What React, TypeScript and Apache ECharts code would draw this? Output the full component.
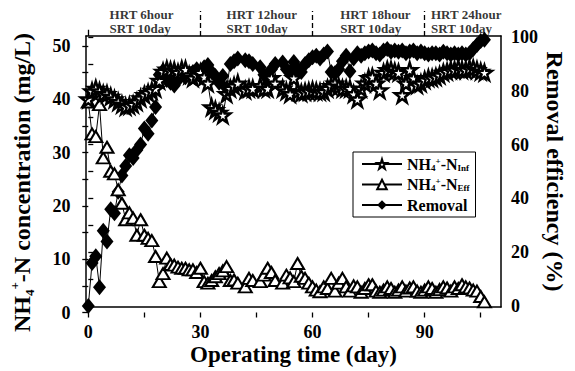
import React, { useEffect, useRef } from 'react';
import * as echarts from 'echarts';

// ---------- data ----------
const days = [
  0, 1, 2, 3, 4, 5, 6, 7, 8, 9,
  10, 11, 12, 13, 14, 15, 16, 17, 18, 19,
  20, 21, 22, 23, 24, 25, 26, 27, 28, 29,
  30, 31, 32, 33, 34, 35, 36, 37, 38, 39, 40,
  42, 43, 44,
  46, 47, 48, 49, 50,
  52, 53, 54, 55, 56, 57, 58, 59, 60, 61,
  62, 63, 64, 65, 66, 67, 68, 69, 70, 71,
  72, 73, 74, 75, 76, 77, 78, 79, 80, 81,
  82, 83, 84, 85, 86, 87, 88, 89, 90, 91,
  92, 93, 94, 95, 96, 97, 98, 99, 100, 101,
  102, 103, 104, 105, 106,
];

const influent = [
  40, 41.5, 42, 41.5, 41, 41, 40.5, 40, 39.5, 39,
  38.6, 38.8, 39, 39.5, 40.2, 40.8, 41.2, 41.6, 42, 43.5,
  45.2, 45.6, 45.4, 45.4, 45, 45.6, 45.6, 44.5, 44, 44.5,
  45, 44.2, 43, 38.5, 38, 37.5, 37, 41, 42, 42.5, 43,
  41.7, 42, 42,
  42.5, 42, 42, 44, 43,
  42, 41.5, 41, 44, 41.5, 41.2, 41.4, 41.5, 41.7, 41.5,
  41.4, 41.4, 42, 42.5, 43, 42.4, 42, 42, 42, 41,
  40, 42, 43, 44, 44.2, 43, 41.7, 45, 45.5, 45.5,
  45.2, 45, 40.8, 43, 45.5, 44, 42.7, 43, 43.6, 44,
  44, 44.2, 44.5, 45, 45.2, 45.5, 45.5, 45.8, 45.5, 45.5,
  45.8, 45.8, 45.5, 45.2, 45,
];

const effluent = [
  39.5, 33.5, 33, 39, 29, 31, 26.5, 26, 23, 20.5,
  17.4, 18.7, 17.7, 14.5, 17.4, 14.5, 13.9, 13.5, 10.5, 5.8,
  7.3, 10.2, 9, 8.9, 8.5, 8.3, 8.3, 8, 8, 7.5,
  8.3, 5.8, 5.5, 6, 6.7, 7.3, 7.8, 8.6, 6, 6.1, 5.5,
  4.8, 6.4, 6,
  5.8, 7, 8.3, 7.5, 6,
  5.5, 7, 6.5, 5.8, 9.2, 6.8, 6.4, 5.5, 4.8, 4.2,
  3.9, 4.8, 4.5, 6.4, 4, 5.5, 6.4, 4.8, 4, 5,
  4.8, 3.8, 4.5, 5.2, 5.2, 4, 3.8, 4.2, 4.8, 4.5,
  3.8, 4.2, 4.8, 4, 4.6, 4.8, 4, 3.8, 4.2, 4.8,
  4.5, 3.8, 4.3, 4.8, 4.6, 4, 4.8, 4.5, 5.2, 4.8,
  4.6, 4.2, 4, 3, 2,
];

const removal = [
  0, 16, 18.5, 7, 28, 24, 36, 34.5, 42.5, 48.5,
  52, 56, 55, 58, 60, 66, 64, 69, 74, 86,
  87.5, 84, 83, 82, 84, 86, 85, 86, 87, 88,
  87, 88.8, 89.6, 87, 85.5, 83, 85.5, 81, 90, 91, 92,
  91.4, 91, 90,
  88.8, 86, 84.5, 88, 90,
  90.5, 88, 87, 90.7, 88, 87, 90, 91.4, 92.5, 93,
  92, 93.5, 94.6, 87, 86.5, 88, 91, 93, 87.3, 92,
  94, 93, 94, 94.6, 95, 94, 93.5, 95, 95.5, 94.5,
  95, 94.5, 95, 94, 94.6, 95, 94, 94.6, 94, 93.5,
  94, 94, 93.5, 94.5, 94, 93.5, 94, 93.5, 94, 93.5,
  94, 95.5, 97, 98.5, 99,
];

const phaseBounds = [30, 60, 90];
const phaseLabelDays = [5.7, 37, 67.4, 91.7];
const phaseLabels = [
  'HRT 6hour\nSRT 10day',
  'HRT 12hour\nSRT 10day',
  'HRT 18hour\nSRT 10day',
  'HRT 24hour\nSRT 10day',
];

const FONT = 'Liberation Serif, Times New Roman, serif';
const STAR = 'path://M50,0 L61,35 L98,35 L68,57 L79,91 L50,70 L21,91 L32,57 L2,35 L39,35 Z';

export default function App() {
  const ref = useRef<HTMLDivElement>(null);

  useEffect(() => {
    document.body.style.margin = '0';
    if (!ref.current) return;
    const chart = echarts.init(ref.current, undefined, { renderer: 'svg' });

    const frameLine = { show: true, onZero: false, lineStyle: { color: '#000', width: 1.5 } };
    const hidden = { show: false };
    const tickLabel = { fontFamily: FONT, fontWeight: 'bold' as const, fontSize: 18, color: '#000' };
    const tickStyle = { show: true, length: 6, lineStyle: { color: '#000', width: 1.3 } };

    const richBase = {
      n: { fontFamily: FONT, fontWeight: 'bold', fontSize: 16, color: '#000', lineHeight: 16, verticalAlign: 'middle' },
      sub: { fontFamily: FONT, fontWeight: 'bold', fontSize: 9, color: '#000', lineHeight: 16, verticalAlign: 'bottom' },
      sup: { fontFamily: FONT, fontWeight: 'bold', fontSize: 9, color: '#000', lineHeight: 16, verticalAlign: 'top' },
    };
    const richTitle = {
      n: { fontFamily: FONT, fontWeight: 'bold', fontSize: 24, color: '#000', lineHeight: 28, verticalAlign: 'middle' },
      sub: { fontFamily: FONT, fontWeight: 'bold', fontSize: 13, color: '#000', lineHeight: 28, verticalAlign: 'bottom' },
      sup: { fontFamily: FONT, fontWeight: 'bold', fontSize: 13, color: '#000', lineHeight: 28, verticalAlign: 'top' },
    };

    const legendNames: Record<string, string> = {
      inf: '{n|NH}{sub|4}{sup|+}{n|-N}{sub|Inf}',
      eff: '{n|NH}{sub|4}{sup|+}{n|-N}{sub|Eff}',
      removal: '{n|Removal}',
    };

    const option: any = {
      animation: false,
      backgroundColor: '#fff',
      grid: [
        { left: 80.5, right: 73, top: 36, bottom: 58.5 }, // frame
        { left: 88.3, right: 94.3, top: 46, bottom: 58.5 }, // left axis data
        { left: 88.3, right: 94.3, top: 37, bottom: 65 }, // right axis data
        { left: 88.3, right: 94.3, top: 11, height: 25 }, // phase header
      ],
      xAxis: [
        {
          gridIndex: 0, type: 'value', min: 0, max: 1, position: 'bottom',
          axisLine: frameLine, axisTick: hidden, axisLabel: hidden, splitLine: hidden,
          name: 'Operating time (day)', nameLocation: 'middle', nameGap: 36,
          nameTextStyle: { fontFamily: FONT, fontWeight: 'bold', fontSize: 23, color: '#000' },
        },
        {
          gridIndex: 0, type: 'value', min: 0, max: 1, position: 'top',
          axisLine: frameLine, axisTick: hidden, axisLabel: hidden, splitLine: hidden,
        },
        {
          gridIndex: 1, type: 'value', min: 0, max: 105, interval: 15, position: 'bottom',
          axisLine: hidden, splitLine: hidden,
          axisTick: { ...tickStyle, length: 5 },
          axisLabel: { ...tickLabel, margin: 10, formatter: (v: number) => (v % 30 === 0 ? String(v) : '') },
        },
        {
          gridIndex: 2, type: 'value', min: 0, max: 105, show: false,
        },
        {
          gridIndex: 3, type: 'value', min: 0, max: 105, show: false,
        },
      ],
      yAxis: [
        {
          gridIndex: 0, type: 'value', min: 0, max: 1, position: 'left',
          axisLine: frameLine, axisTick: hidden, axisLabel: hidden, splitLine: hidden,
          name: '{n|NH}{sub|4}{sup|+}{n|-N concentration (mg/L)}',
          nameLocation: 'middle', nameGap: 50, nameRotate: 90,
          nameTextStyle: { rich: richTitle, padding: [0, 22, 0, 0] },
        },
        {
          gridIndex: 0, type: 'value', min: 0, max: 1, position: 'right',
          axisLine: frameLine, axisTick: hidden, axisLabel: hidden, splitLine: hidden,
          name: 'Removal efficiency (%)', nameLocation: 'middle', nameGap: 42, nameRotate: -90,
          nameTextStyle: { fontFamily: FONT, fontWeight: 'bold', fontSize: 24, color: '#000' },
        },
        {
          gridIndex: 1, type: 'value', min: 0, max: 50, interval: 5, position: 'left', offset: 7.8,
          axisLine: hidden, splitLine: hidden,
          axisTick: { ...tickStyle, length: 6 },
          axisLabel: { ...tickLabel, margin: 10, formatter: (v: number) => (v % 10 === 0 ? String(v) : '') },
        },
        {
          gridIndex: 2, type: 'value', min: 0, max: 100, interval: 10, position: 'right', offset: 21.3,
          axisLine: hidden, splitLine: hidden,
          axisTick: { ...tickStyle, length: 5 },
          axisLabel: { ...tickLabel, margin: 9, formatter: (v: number) => (v % 20 === 0 ? String(v) : '') },
        },
        {
          gridIndex: 3, type: 'value', min: 0, max: 1, show: false,
        },
      ],
      legend: {
        orient: 'vertical',
        left: 353,
        top: 152,
        data: ['inf', 'eff', 'removal'],
        formatter: (name: string) => legendNames[name],
        itemWidth: 40,
        itemHeight: 12,
        itemGap: 4.5,
        padding: [4, 6, 4, 8],
        borderColor: '#000',
        borderWidth: 1,
        backgroundColor: '#fff',
        textStyle: { rich: richBase, padding: [0, 0, 0, 0] },
      },
      series: [
        {
          name: 'removal', type: 'line', xAxisIndex: 3, yAxisIndex: 3,
          data: days.map((d, i) => [d, removal[i]]),
          symbol: 'diamond', symbolSize: [13, 16], clip: false, z: 2,
          itemStyle: { color: '#000' },
          lineStyle: { color: '#000', width: 1 },
        },
        {
          name: 'eff', type: 'line', xAxisIndex: 2, yAxisIndex: 2,
          data: days.map((d, i) => [d, effluent[i]]),
          symbol: 'triangle', symbolSize: [13, 11], clip: false, z: 3,
          itemStyle: { color: '#fff', borderColor: '#000', borderWidth: 2 },
          lineStyle: { color: '#000', width: 1 },
        },
        {
          name: 'inf', type: 'line', xAxisIndex: 2, yAxisIndex: 2,
          data: days.map((d, i) => [d, influent[i]]),
          symbol: STAR, symbolSize: 15, clip: false, z: 4,
          itemStyle: { color: '#fff', borderColor: '#000', borderWidth: 2.4 },
          lineStyle: { color: '#000', width: 1 },
        },
        {
          name: 'phase', type: 'scatter', xAxisIndex: 4, yAxisIndex: 4,
          data: phaseLabelDays.map((d, i) => [d, 0.6, phaseLabels[i]]),
          symbolSize: 0, silent: true,
          label: {
            show: true, position: 'right', distance: 0, align: 'left',
            formatter: (p: any) => p.data[2],
            fontFamily: FONT, fontWeight: 'bold', fontSize: 13, lineHeight: 14, color: '#000',
          },
          markLine: {
            silent: true, symbol: 'none', label: { show: false },
            lineStyle: { color: '#000', width: 1.3, type: [5, 3] },
            data: [
              ...phaseBounds.map((b) => ({ xAxis: b })),
              [
                { coord: [0, 0], lineStyle: { type: 'solid', width: 1.3 } },
                { coord: [0, 0.25] },
              ],
            ],
          },
        },
      ],
    };

    chart.setOption(option);
    return () => chart.dispose();
  }, []);

  return <div ref={ref} style={{ width: 575, height: 371 }} />;
}
